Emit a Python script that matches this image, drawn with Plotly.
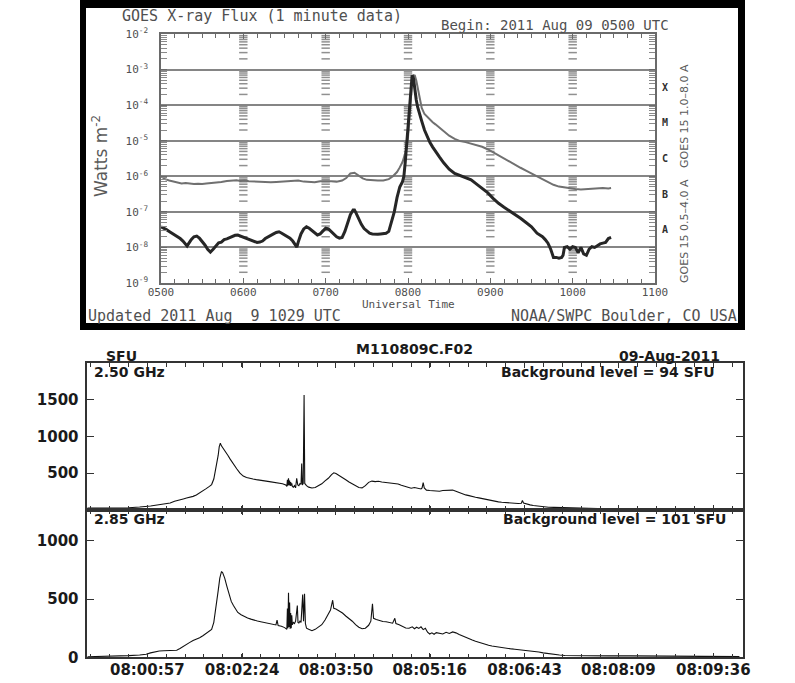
import numpy as np
import plotly.graph_objects as go

W, H = 795, 683
def fx(p):
    return p / W
def fy(p):
    return 1 - p / H

# ---------------- GOES X-ray flux (minutes after 05:00 UTC) ----------------
hour_ticks = [0, 60, 120, 180, 240, 300, 360]
hour_labels = ["0500", "0600", "0700", "0800", "0900", "1000", "1100"]
decade_exps = [-9, -8, -7, -6, -5, -4, -3, -2]
decade_labels = ["10<sup>-9</sup>", "10<sup>-8</sup>", "10<sup>-7</sup>", "10<sup>-6</sup>",
                 "10<sup>-5</sup>", "10<sup>-4</sup>", "10<sup>-3</sup>", "10<sup>-2</sup>"]
class_letters = ["A", "B", "C", "M", "X"]
class_exps = [-7.5, -6.5, -5.5, -4.5, -3.5]

long_t = [0, 3, 6, 9, 12, 15, 18, 21, 24, 27, 30, 33, 36, 40, 44, 48, 52, 55, 58, 61,
          64, 68, 72, 76, 80, 84, 88, 92, 96, 100, 104, 108, 112, 116, 120, 124, 128, 132,
          135, 138, 141, 144, 147, 150, 154, 158, 162, 166, 169, 172, 174, 176, 178, 179,
          180, 181, 182, 183, 184, 185, 186, 187, 188, 189, 190, 192, 194, 196, 198, 200,
          203, 206, 210, 214, 218, 222, 226, 230, 234, 238, 242, 246, 250, 254, 258, 262,
          266, 270, 274, 278, 282, 286, 290, 294, 298, 302, 306, 310, 314, 318, 322, 326, 328]
long_log = [-6.00, -6.08, -6.12, -6.15, -6.18, -6.20, -6.19, -6.21, -6.22, -6.21, -6.22,
            -6.20, -6.19, -6.18, -6.16, -6.13, -6.12, -6.11, -6.13, -6.12, -6.14, -6.15,
            -6.16, -6.16, -6.17, -6.16, -6.15, -6.13, -6.11, -6.12, -6.15, -6.16, -6.17,
            -6.14, -6.13, -6.14, -6.15, -6.12, -6.05, -5.92, -5.90, -5.98, -6.06, -6.10,
            -6.12, -6.12, -6.12, -6.08, -6.00, -5.88, -5.75, -5.60, -5.35, -5.20, -4.90,
            -4.40, -3.80, -3.35, -3.16, -3.17, -3.30, -3.50, -3.70, -3.90, -4.08, -4.25,
            -4.33, -4.42, -4.48, -4.54, -4.63, -4.72, -4.86, -4.95, -5.01, -5.04, -5.08,
            -5.12, -5.17, -5.24, -5.33, -5.42, -5.51, -5.60, -5.68, -5.76, -5.84, -5.92,
            -5.99, -6.08, -6.16, -6.24, -6.29, -6.32, -6.35, -6.36, -6.37, -6.36, -6.34,
            -6.35, -6.33, -6.34, -6.33]

short_t = [0, 2, 4, 6, 8, 10, 12, 14, 16, 18, 19, 20, 22, 24, 26, 28, 30, 32, 34, 36, 38,
           40, 42, 44, 46, 48, 50, 52, 54, 56, 58, 60, 62, 64, 66, 68, 70, 72, 74, 76, 78,
           80, 82, 84, 86, 88, 90, 92, 94, 96, 98, 99, 100, 102, 104, 106, 108, 110, 112,
           114, 116, 118, 120, 122, 124, 126, 128, 130, 132, 134, 136, 138, 140, 141, 142,
           144, 146, 148, 150, 152, 154, 156, 158, 160, 162, 164, 166, 168, 170, 172, 174,
           176, 177, 178, 179, 180, 181, 182, 183, 184, 185, 186, 187, 188, 189, 190, 192,
           194, 196, 198, 200, 203, 206, 210, 214, 218, 222, 226, 230, 234, 238, 242, 246,
           250, 254, 258, 262, 266, 270, 274, 278, 280, 282, 284, 286, 288, 290, 292, 293,
           294, 296, 298, 300, 302, 304, 306, 308, 310, 312, 314, 316, 318, 320, 322, 324,
           326, 328]
short_log = [-7.42, -7.45, -7.50, -7.55, -7.60, -7.64, -7.70, -7.75, -7.82, -7.92, -7.96,
             -7.90, -7.78, -7.70, -7.68, -7.74, -7.82, -7.93, -8.05, -8.13, -8.05, -7.95,
             -7.87, -7.85, -7.78, -7.76, -7.72, -7.70, -7.66, -7.65, -7.68, -7.70, -7.74,
             -7.78, -7.80, -7.83, -7.86, -7.85, -7.82, -7.75, -7.70, -7.66, -7.62, -7.58,
             -7.56, -7.60, -7.65, -7.70, -7.74, -7.82, -7.95, -7.99, -7.85, -7.62, -7.48,
             -7.42, -7.46, -7.52, -7.60, -7.65, -7.62, -7.54, -7.46, -7.48, -7.56, -7.64,
             -7.70, -7.74, -7.72, -7.55, -7.30, -7.08, -6.95, -6.95, -7.02, -7.20, -7.35,
             -7.47, -7.55, -7.60, -7.62, -7.63, -7.63, -7.62, -7.62, -7.60, -7.55, -7.30,
             -7.00, -6.60, -6.30, -6.15, -6.00, -5.60, -5.10, -4.60, -3.90, -3.40, -3.16,
             -3.25, -3.60, -3.85, -4.05, -4.20, -4.33, -4.45, -4.70, -4.90, -5.05, -5.18,
             -5.30, -5.46, -5.62, -5.80, -5.92, -5.98, -6.02, -6.10, -6.22, -6.33, -6.46,
             -6.62, -6.76, -6.87, -6.97, -7.07, -7.18, -7.30, -7.42, -7.60, -7.70, -7.78,
             -7.88, -8.05, -8.28, -8.28, -8.30, -8.28, -8.22, -8.00, -7.98, -8.05, -7.98,
             -8.00, -8.15, -8.00, -8.18, -8.22, -8.05, -7.98, -8.00, -7.95, -7.90, -7.88,
             -7.86, -7.75, -7.72]

# ---------------- Radio flux (seconds after 08:00:00 UT) ----------------
radio_tick_s = [57, 144, 230, 316, 403, 489, 576]
radio_tick_labels = ["08:00:57", "08:02:24", "08:03:50", "08:05:16", "08:06:43", "08:08:09", "08:09:36"]

f250_s = [2, 10, 20, 30, 40, 50, 56, 60, 66, 72, 78, 82, 86, 90, 93, 96, 99, 102, 105, 108,
          111, 114, 116, 118, 120, 122, 123, 124, 125, 126, 127, 129, 131, 133, 136, 139,
          142, 145, 148, 151, 154, 157, 160, 163, 166, 169, 172, 175, 178, 181, 184, 185,
          185.5, 186, 186.5, 187, 187.5, 188, 188.5, 189, 189.5, 190, 191, 192, 193, 194,
          195, 196, 197, 198, 198.6, 199.2, 200, 200.8, 201.4, 202, 203, 205, 208, 211, 214,
          217, 220, 223, 226, 228, 230, 233, 236, 239, 242, 245, 248, 251, 254, 257, 260,
          263, 266, 269, 272, 275, 278, 281, 284, 287, 290, 293, 296, 299, 302, 305, 308,
          309, 310, 311, 313, 316, 319, 322, 325, 328, 331, 334, 337, 340, 343, 346, 349,
          352, 355, 358, 361, 364, 367, 370, 373, 376, 379, 382, 385, 388, 391, 394, 397,
          400, 401, 402, 405, 408, 411, 414, 417, 420, 425, 430, 435, 440, 450, 460, 470,
          480, 490, 500, 520, 540, 560, 580, 600]
f250_v = [25, 24, 26, 27, 30, 40, 45, 55, 68, 78, 95, 120, 140, 150, 162, 172, 185, 205,
          230, 262, 290, 320, 345, 420, 560, 740, 860, 905, 870, 850, 830, 785, 740, 690,
          620, 560, 500, 460, 440, 425, 420, 412, 408, 400, 392, 385, 378, 370, 362, 355,
          340, 320, 410, 330, 430, 340, 400, 325, 380, 330, 360, 320, 310, 330, 300, 430,
          340, 330, 360, 350, 630, 340, 360, 1560, 360, 340, 330, 310, 298, 305, 330, 355,
          395, 430, 480, 505, 495, 470, 440, 410, 380, 355, 330, 305, 300, 330, 375, 392,
          385, 390, 380, 375, 372, 368, 360, 352, 335, 320, 300, 295, 305, 290, 285, 300,
          370, 300, 270, 265, 262, 258, 255, 265, 270, 275, 270, 255, 235, 220, 205, 195,
          180, 172, 165, 155, 145, 132, 125, 118, 110, 105, 100, 98, 96, 90, 88, 92, 128,
          95, 78, 70, 62, 55, 50, 44, 38, 35, 32, 28, 25, 22, 20, 20, 18, 18, 17, 18, 17,
          18, 17]

f285_s = [2, 15, 30, 40, 50, 56, 60, 64, 68, 72, 76, 80, 84, 87, 90, 93, 96, 99, 102, 105,
          108, 111, 114, 116, 118, 120, 122, 123.5, 125, 126, 127, 128, 130, 132, 134, 136,
          138, 140, 143, 146, 149, 152, 155, 158, 161, 164, 167, 170, 173, 175, 176, 177,
          180, 183, 185, 185.5, 186, 186.5, 187, 187.5, 188, 188.5, 189, 189.5, 190, 191,
          192, 193, 194.6, 195.2, 196, 197, 198, 199.5, 200.3, 201.2, 202, 203, 205, 208,
          211, 214, 217, 220, 223, 225, 227, 228, 230, 233, 236, 239, 242, 245, 248, 251,
          254, 257, 260, 262, 263.5, 264.5, 267, 270, 273, 276, 279, 282, 284, 285, 288,
          291, 294, 297, 300, 302, 304, 306, 308, 310, 312, 314, 316, 318, 320, 322, 325,
          328, 331, 334, 337, 340, 343, 346, 349, 352, 355, 358, 361, 364, 367, 370, 373,
          376, 379, 382, 385, 388, 391, 394, 397, 400, 404, 408, 412, 416, 420, 425, 430,
          435, 440, 450, 460, 480, 500, 520, 540, 560, 580, 600]
f285_v = [5, 6, 10, 14, 20, 26, 38, 48, 54, 56, 57, 58, 60, 75, 95, 110, 128, 145, 155,
          168, 185, 205, 225, 240, 300, 420, 570, 680, 735, 730, 705, 680, 610, 540, 480,
          445, 410, 385, 365, 350, 338, 328, 318, 312, 306, 300, 294, 288, 282, 278, 320,
          272, 266, 255, 240, 420, 250, 555, 260, 470, 245, 380, 250, 360, 280, 300, 290,
          310, 445, 300, 295, 310, 300, 540, 310, 545, 290, 250, 240, 228, 240, 258, 280,
          320, 370, 405, 490, 420, 415, 400, 380, 355, 335, 310, 280, 258, 245, 250, 275,
          310, 460, 335, 325, 315, 308, 305, 300, 293, 335, 290, 280, 265, 252, 250, 262,
          245, 258, 248, 262, 238, 250, 215, 200, 210, 198, 212, 205, 200, 215, 205, 218,
          210, 195, 182, 170, 158, 148, 138, 128, 120, 110, 104, 97, 92, 88, 84, 80, 76,
          72, 69, 66, 63, 60, 56, 51, 45, 38, 30, 25, 20, 16, 14, 13, 12, 12, 10, 9, 8, 7, 6]

# ---------------- figure ----------------
GRAY = "#6a6a6a"
TXT = "#505050"
MONO = "DejaVu Sans Mono"
SANS = "DejaVu Sans"
INK = "#1a1a1a"

fig = go.Figure()

# hour columns of short dashes (log minor positions) inside GOES panel
minor_vals = [k * 10.0 ** e for e in range(-9, -2) for k in range(2, 10)]
col_x = [h for h in hour_ticks[1:-1] for _ in minor_vals]
col_y = [v for _ in hour_ticks[1:-1] for v in minor_vals]
fig.add_trace(go.Scatter(x=col_x, y=col_y, mode="markers", xaxis="x", yaxis="y",
                         marker=dict(symbol="line-ew", size=6, line=dict(width=1.5, color="#909090")),
                         hoverinfo="skip", showlegend=False))

fig.add_trace(go.Scatter(x=long_t, y=10 ** np.array(long_log), mode="lines", xaxis="x", yaxis="y",
                         line=dict(color="#707070", width=2), showlegend=False))
fig.add_trace(go.Scatter(x=short_t, y=10 ** np.array(short_log), mode="lines", xaxis="x", yaxis="y",
                         line=dict(color="#262626", width=3), showlegend=False))

fig.add_trace(go.Scatter(x=f250_s, y=f250_v, mode="lines", xaxis="x2", yaxis="y2",
                         line=dict(color="#111111", width=1.1), showlegend=False))
fig.add_trace(go.Scatter(x=f285_s, y=f285_v, mode="lines", xaxis="x3", yaxis="y3",
                         line=dict(color="#111111", width=1.1), showlegend=False))

radio_minor = list(np.arange(radio_tick_s[0] - 3 * 17.3, 603, 17.3))

fig.update_layout(
    width=W, height=H, margin=dict(l=0, r=0, t=0, b=0, pad=0, autoexpand=False),
    paper_bgcolor="white", plot_bgcolor="white", showlegend=False,
    xaxis=dict(domain=[fx(161), fx(655)], range=[0, 360], anchor="y", automargin=False,
               showline=True, linecolor=GRAY, linewidth=1.5, mirror="ticks",
               ticks="inside", ticklen=5, tickcolor=GRAY, tickvals=hour_ticks, ticktext=hour_labels,
               tickfont=dict(family=MONO, size=11, color=TXT), ticklabelstandoff=-2,
               minor=dict(ticks="inside", ticklen=4, tickcolor=GRAY, dtick=10, showgrid=False),
               showgrid=False, zeroline=False),
    yaxis=dict(domain=[fy(283), fy(34)], type="log", range=[-9, -2], anchor="x", automargin=False,
               showline=True, linecolor=GRAY, linewidth=1.5, mirror="ticks",
               ticks="inside", ticklen=6, tickcolor=GRAY,
               tickvals=[10.0 ** e for e in decade_exps], ticktext=decade_labels,
               tickfont=dict(family=MONO, size=11, color=TXT), ticklabelstandoff=9,
               minor=dict(ticks="inside", ticklen=6, tickcolor="#8a8a8a", tickvals=minor_vals, showgrid=False),
               showgrid=True, gridcolor="#858585", gridwidth=1.5, zeroline=False),
    xaxis2=dict(domain=[fx(87.3), fx(742.7)], range=[2, 603], anchor="y2", automargin=False,
                showline=True, linecolor="#333", linewidth=1.5, mirror="ticks",
                ticks="inside", ticklen=5, tickcolor="#333", tickvals=radio_tick_s,
                showticklabels=False,
                minor=dict(ticks="inside", ticklen=4, tickcolor="#333", tickvals=radio_minor),
                showgrid=False, zeroline=False),
    yaxis2=dict(domain=[fy(510), fy(363.3)], range=[0, 1990], anchor="x2", automargin=False,
                showline=True, linecolor="#333", linewidth=1.5, mirror="ticks",
                ticks="inside", ticklen=7, tickcolor="#333", tickvals=[500, 1000, 1500],
                tickfont=dict(family=SANS, size=15, color=INK, weight="bold"),
                ticklabelstandoff=4, showgrid=False, zeroline=False),
    xaxis3=dict(domain=[fx(87.3), fx(742.7)], range=[2, 603], anchor="y3", automargin=False,
                showline=True, linecolor="#333", linewidth=1.5, mirror="ticks",
                ticks="inside", ticklen=5, tickcolor="#333", tickvals=radio_tick_s,
                ticktext=radio_tick_labels,
                tickfont=dict(family=SANS, size=15, color=INK, weight="bold"),
                ticklabelstandoff=-2,
                minor=dict(ticks="inside", ticklen=4, tickcolor="#333", tickvals=radio_minor),
                showgrid=False, zeroline=False),
    yaxis3=dict(domain=[fy(657.3), fy(510)], range=[0, 1265], anchor="x3", automargin=False,
                showline=True, linecolor="#333", linewidth=1.5, mirror="ticks",
                ticks="inside", ticklen=7, tickcolor="#333", tickvals=[0, 500, 1000],
                tickfont=dict(family=SANS, size=15, color=INK, weight="bold"),
                ticklabelstandoff=4, showgrid=False, zeroline=False),
)

# black frame around GOES image
fig.add_shape(type="rect", xref="paper", yref="paper", x0=fx(80), x1=fx(745), y0=fy(330), y1=fy(0),
              fillcolor="black", line=dict(width=0), layer="below")
fig.add_shape(type="rect", xref="paper", yref="paper", x0=fx(86), x1=fx(738), y0=fy(323), y1=fy(8),
              fillcolor="white", line=dict(width=0), layer="below")

def note(text, x, y, size, xanchor="center", family=MONO, color=TXT, angle=0, weight="normal"):
    fig.add_annotation(text=text, x=fx(x), y=fy(y), xref="paper", yref="paper",
                       xanchor=xanchor, yanchor="middle", showarrow=False, textangle=angle,
                       font=dict(family=family, size=size, color=color, weight=weight))

note("GOES X-ray Flux (1 minute data)", 120, 16, 15, "left")
note("Begin: 2011 Aug 09 0500 UTC", 671, 25, 14, "right")
note("Watts m<sup>-2</sup>", 100, 156, 17, family=SANS, angle=-90, color="#5a5a5a")
note("Universal Time", 408, 305, 11)
note("Updated 2011 Aug\u00a0\u00a09 1029 UTC", 86, 316, 15, "left")
note("NOAA/SWPC Boulder, CO USA", 739, 316, 15, "right")
note("GOES 15 1.0\u20138.0 A", 684, 116, 11, family=SANS, angle=-90, color="#5a5a5a")
note("GOES 15 0.5\u20134.0 A", 684, 231, 11, family=SANS, angle=-90, color="#5a5a5a")
for letter, e in zip(class_letters, class_exps):
    fig.add_annotation(text=letter, x=fx(660), y=e, xref="paper", yref="y", xanchor="left",
                       yanchor="middle", showarrow=False,
                       font=dict(family=MONO, size=10, color="#303030", weight="bold"))

note("SFU", 121, 356, 14, family=SANS, color=INK, weight="bold")
note("M110809C.F02", 414, 349, 14, family=SANS, color=INK, weight="bold")
note("09-Aug-2011", 669, 356, 14, family=SANS, color=INK, weight="bold")
note("2.50 GHz", 92, 372, 14, "left", family=SANS, color=INK, weight="bold")
note("Background level = 94 SFU", 717, 372, 14, "right", family=SANS, color=INK, weight="bold")
note("2.85 GHz", 92, 519, 14, "left", family=SANS, color=INK, weight="bold")
note("Background level = 101 SFU", 728, 519, 14, "right", family=SANS, color=INK, weight="bold")

fig.write_html("out.html")
